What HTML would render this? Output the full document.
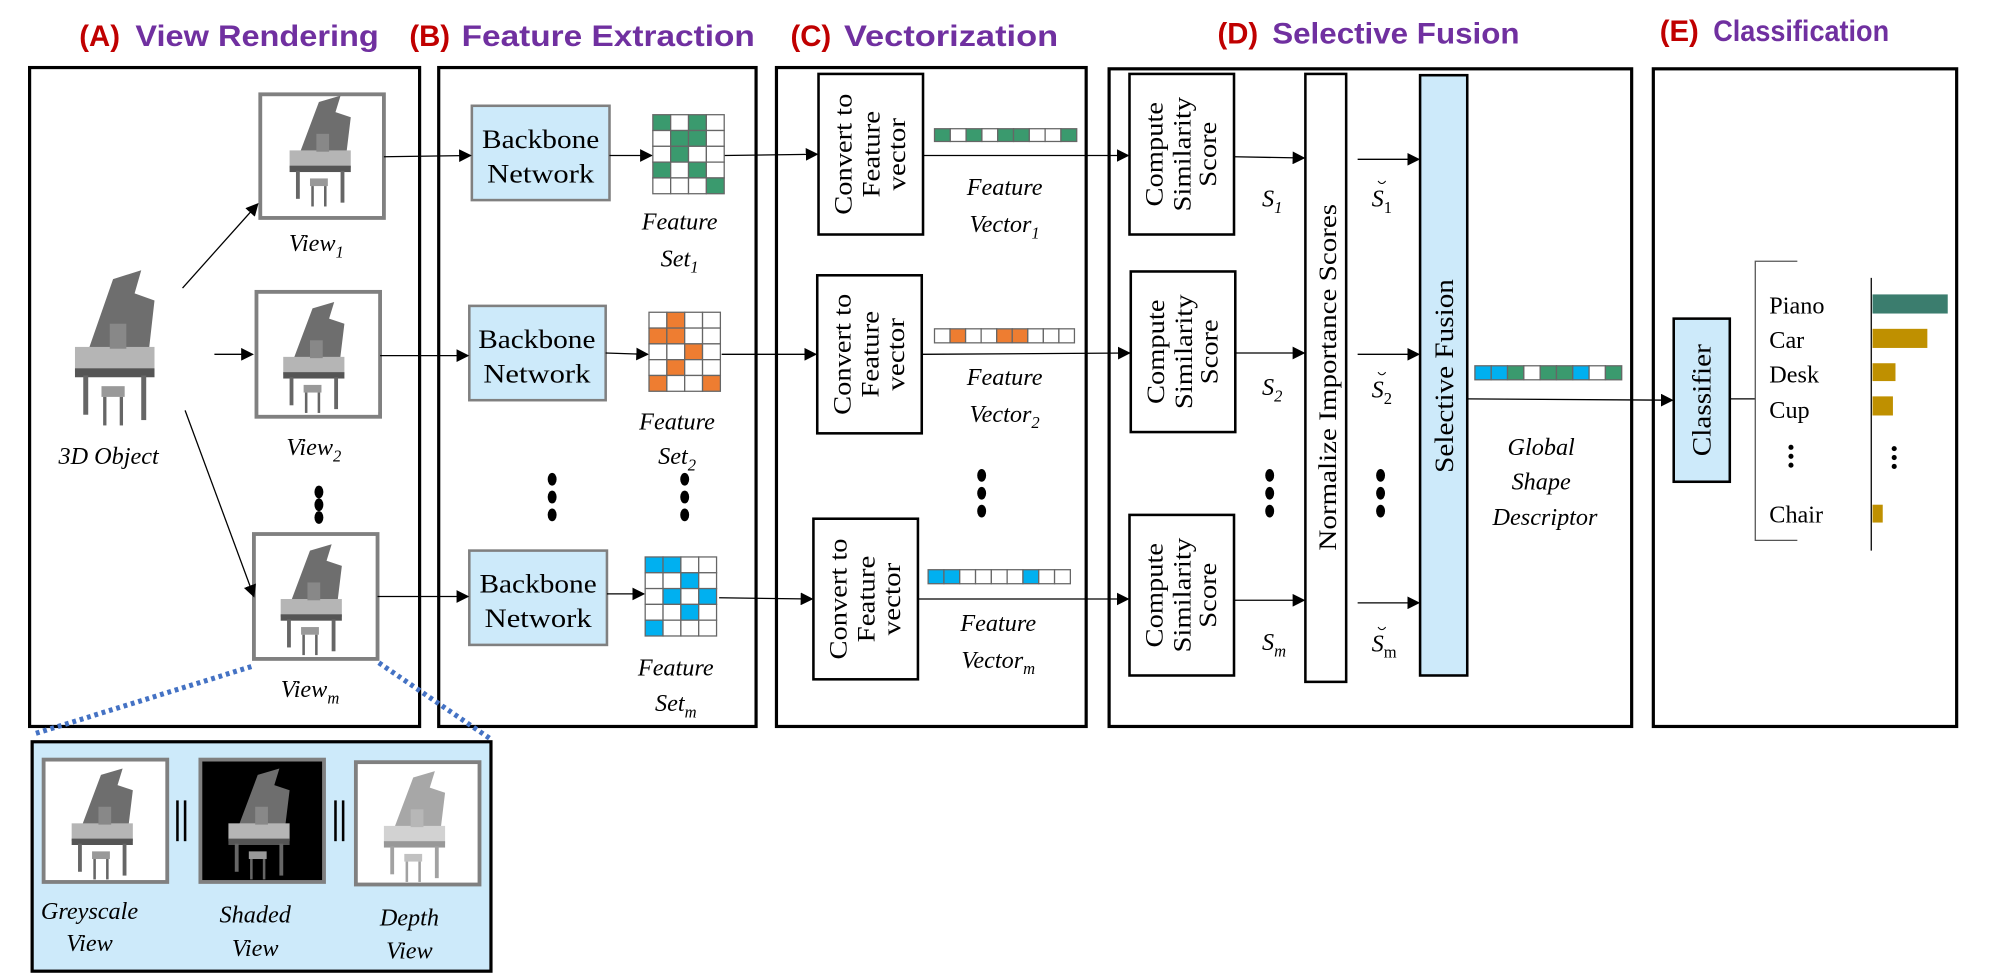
<!DOCTYPE html>
<html><head><meta charset="utf-8"><style>
html,body{margin:0;padding:0;background:#fff;}
svg{display:block;}
.t{font-family:"Liberation Serif",serif;}
.i{font-family:"Liberation Serif",serif;font-style:italic;}
.h{font-family:"Liberation Sans Narrow","Liberation Sans",sans-serif;font-weight:bold;}
</style></head><body>
<svg width="1999" height="975" viewBox="0 0 1568 765" xmlns="http://www.w3.org/2000/svg">
<defs>
<marker id="a" markerWidth="10" markerHeight="10" refX="9" refY="5" orient="auto" markerUnits="userSpaceOnUse"><path d="M0,0 L10,5 L0,10 z" fill="#000"/></marker>
<g id="piano">
<path d="M30,50 L45,10 L62,5 L58,18 L70,22 L66,55 z" fill="#6e6e6e"/>
<rect x="22" y="48" width="48" height="14" fill="#b5b5b5"/>
<rect x="22" y="60" width="48" height="5" fill="#555"/>
<rect x="43" y="35" width="10" height="14" fill="#888"/>
<rect x="27" y="64" width="3" height="22" fill="#666"/>
<rect x="62" y="64" width="3" height="25" fill="#666"/>
<rect x="38" y="70" width="14" height="6" fill="#999"/>
<rect x="39" y="76" width="2" height="16" fill="#666"/>
<rect x="49" y="76" width="2" height="16" fill="#666"/>
</g>
</defs>

<!-- Titles -->
<text x="62" y="36" class="h" font-size="23" fill="#c00000">(A)</text>
<text x="106" y="36" class="h" font-size="23" fill="#7030a0" textLength="191" lengthAdjust="spacingAndGlyphs">View Rendering</text>
<text x="321" y="36" class="h" font-size="23" fill="#c00000">(B)</text>
<text x="362" y="36" class="h" font-size="23" fill="#7030a0" textLength="230" lengthAdjust="spacingAndGlyphs">Feature Extraction</text>
<text x="620" y="36" class="h" font-size="23" fill="#c00000">(C)</text>
<text x="662" y="36" class="h" font-size="23" fill="#7030a0" textLength="168" lengthAdjust="spacingAndGlyphs">Vectorization</text>
<text x="955" y="34" class="h" font-size="23" fill="#c00000">(D)</text>
<text x="998" y="34" class="h" font-size="23" fill="#7030a0" textLength="194" lengthAdjust="spacingAndGlyphs">Selective Fusion</text>
<text x="1302" y="32" class="h" font-size="23" fill="#c00000">(E)</text>
<text x="1344" y="32" class="h" font-size="23" fill="#7030a0" textLength="138" lengthAdjust="spacingAndGlyphs">Classification</text>

<!-- Panels -->
<g fill="none" stroke="#000" stroke-width="2.5">
<rect x="23" y="53" width="306" height="517"/>
<rect x="344" y="53" width="249" height="517"/>
<rect x="609" y="53" width="243" height="517"/>
<rect x="870" y="54" width="410" height="516"/>
<rect x="1297" y="54" width="238" height="516"/>
</g>

<!-- Panel A -->
<g transform="translate(30,205) scale(1.3,1.4)"><use href="#piano"/></g>
<text x="85" y="364" class="i" font-size="19" text-anchor="middle">3D Object</text>
<rect x="204" y="74" width="97" height="97" fill="#fff" stroke="#808080" stroke-width="3"/>
<g transform="translate(205,70)"><use href="#piano"/></g>
<rect x="201" y="229" width="97" height="98" fill="#fff" stroke="#808080" stroke-width="3"/>
<g transform="translate(200,232)"><use href="#piano"/></g>
<rect x="199" y="419" width="97" height="98" fill="#fff" stroke="#808080" stroke-width="3"/>
<g transform="translate(198,422)"><use href="#piano"/></g>
<text x="248" y="197" class="i" font-size="19" text-anchor="middle">View<tspan font-size="13" dy="5">1</tspan></text>
<text x="246" y="357" class="i" font-size="19" text-anchor="middle">View<tspan font-size="13" dy="5">2</tspan></text>
<text x="243" y="547" class="i" font-size="19" text-anchor="middle">View<tspan font-size="13" dy="5">m</tspan></text>
<g fill="#000"><ellipse cx="250" cy="386" rx="3.5" ry="5"/><ellipse cx="250" cy="396" rx="3.5" ry="5"/><ellipse cx="250" cy="406" rx="3.5" ry="5"/></g>
<g stroke="#000" stroke-width="1" marker-end="url(#a)">
<line x1="143" y1="226" x2="202" y2="160"/>
<line x1="168" y1="278" x2="198" y2="278"/>
<line x1="145" y1="322" x2="199" y2="468"/>
</g>

<!-- Zoom panel -->
<g stroke="#4472c4" stroke-width="4" stroke-dasharray="3,3" fill="none">
<line x1="197" y1="523" x2="26" y2="576"/>
<line x1="297" y1="520" x2="385" y2="580"/>
</g>
<rect x="25" y="582" width="360" height="180" fill="#cdeafa" stroke="#000" stroke-width="2.5"/>
<rect x="34" y="596" width="97" height="96" fill="#fff" stroke="#808080" stroke-width="3"/>
<g transform="translate(34,598)"><use href="#piano"/></g>
<rect x="157" y="596" width="97" height="96" fill="#000" stroke="#808080" stroke-width="3"/>
<g transform="translate(157,598)"><use href="#piano"/></g>
<rect x="279" y="598" width="97" height="96" fill="#fff" stroke="#808080" stroke-width="3"/>
<g transform="translate(279,600)" opacity="0.6"><use href="#piano"/></g>
<g stroke="#000" stroke-width="2"><line x1="139" y1="628" x2="139" y2="660"/><line x1="145" y1="628" x2="145" y2="660"/><line x1="263" y1="628" x2="263" y2="660"/><line x1="269" y1="628" x2="269" y2="660"/></g>
<g class="i" font-size="19" text-anchor="middle">
<text x="70" y="721">Greyscale</text><text x="70" y="746">View</text>
<text x="200" y="724">Shaded</text><text x="200" y="750">View</text>
<text x="321" y="726">Depth</text><text x="321" y="752">View</text>
</g>

<!-- Panel B -->
<g fill="#cdeafa" stroke="#808080" stroke-width="2">
<rect x="370" y="83" width="108" height="74"/>
<rect x="368" y="240" width="107" height="74"/>
<rect x="368" y="432" width="108" height="74"/>
</g>
<g class="t" font-size="21" text-anchor="middle" lengthAdjust="spacingAndGlyphs">
<text x="424" y="116" textLength="92" lengthAdjust="spacingAndGlyphs">Backbone</text><text x="424" y="143" textLength="84" lengthAdjust="spacingAndGlyphs">Network</text>
<text x="421" y="273" textLength="92" lengthAdjust="spacingAndGlyphs">Backbone</text><text x="421" y="300" textLength="84" lengthAdjust="spacingAndGlyphs">Network</text>
<text x="422" y="465" textLength="92" lengthAdjust="spacingAndGlyphs">Backbone</text><text x="422" y="492" textLength="84" lengthAdjust="spacingAndGlyphs">Network</text>
</g>
<g stroke="#000" stroke-width="1" marker-end="url(#a)">
<line x1="301" y1="123" x2="369" y2="122"/>
<line x1="298" y1="279" x2="367" y2="279"/>
<line x1="296" y1="468" x2="367" y2="468"/>
<line x1="478" y1="122" x2="511" y2="122"/>
<line x1="475" y1="277" x2="508" y2="278"/>
<line x1="476" y1="466" x2="505" y2="466"/>
<line x1="568" y1="122" x2="641" y2="121"/>
<line x1="566" y1="278" x2="640" y2="278"/>
<line x1="564" y1="469" x2="637" y2="470"/>
</g>
<!-- grids -->
<g stroke="#666" stroke-width="1">
<g transform="translate(512,90)">
<rect x="0" y="0" width="14" height="12.4" fill="#3a9a6e"/><rect x="14" y="0" width="14" height="12.4" fill="#fff"/><rect x="28" y="0" width="14" height="12.4" fill="#3a9a6e"/><rect x="42" y="0" width="14" height="12.4" fill="#fff"/>
<rect x="0" y="12.4" width="14" height="12.4" fill="#fff"/><rect x="14" y="12.4" width="14" height="12.4" fill="#3a9a6e"/><rect x="28" y="12.4" width="14" height="12.4" fill="#3a9a6e"/><rect x="42" y="12.4" width="14" height="12.4" fill="#fff"/>
<rect x="0" y="24.8" width="14" height="12.4" fill="#fff"/><rect x="14" y="24.8" width="14" height="12.4" fill="#3a9a6e"/><rect x="28" y="24.8" width="14" height="12.4" fill="#fff"/><rect x="42" y="24.8" width="14" height="12.4" fill="#fff"/>
<rect x="0" y="37.2" width="14" height="12.4" fill="#3a9a6e"/><rect x="14" y="37.2" width="14" height="12.4" fill="#fff"/><rect x="28" y="37.2" width="14" height="12.4" fill="#3a9a6e"/><rect x="42" y="37.2" width="14" height="12.4" fill="#fff"/>
<rect x="0" y="49.6" width="14" height="12.4" fill="#fff"/><rect x="14" y="49.6" width="14" height="12.4" fill="#fff"/><rect x="28" y="49.6" width="14" height="12.4" fill="#fff"/><rect x="42" y="49.6" width="14" height="12.4" fill="#3a9a6e"/>
</g>
<g transform="translate(509,245)">
<rect x="0" y="0" width="14" height="12.4" fill="#fff"/><rect x="14" y="0" width="14" height="12.4" fill="#ee7d31"/><rect x="28" y="0" width="14" height="12.4" fill="#fff"/><rect x="42" y="0" width="14" height="12.4" fill="#fff"/>
<rect x="0" y="12.4" width="14" height="12.4" fill="#ee7d31"/><rect x="14" y="12.4" width="14" height="12.4" fill="#ee7d31"/><rect x="28" y="12.4" width="14" height="12.4" fill="#fff"/><rect x="42" y="12.4" width="14" height="12.4" fill="#fff"/>
<rect x="0" y="24.8" width="14" height="12.4" fill="#fff"/><rect x="14" y="24.8" width="14" height="12.4" fill="#fff"/><rect x="28" y="24.8" width="14" height="12.4" fill="#ee7d31"/><rect x="42" y="24.8" width="14" height="12.4" fill="#fff"/>
<rect x="0" y="37.2" width="14" height="12.4" fill="#fff"/><rect x="14" y="37.2" width="14" height="12.4" fill="#ee7d31"/><rect x="28" y="37.2" width="14" height="12.4" fill="#fff"/><rect x="42" y="37.2" width="14" height="12.4" fill="#fff"/>
<rect x="0" y="49.6" width="14" height="12.4" fill="#ee7d31"/><rect x="14" y="49.6" width="14" height="12.4" fill="#fff"/><rect x="28" y="49.6" width="14" height="12.4" fill="#fff"/><rect x="42" y="49.6" width="14" height="12.4" fill="#ee7d31"/>
</g>
<g transform="translate(506,437)">
<rect x="0" y="0" width="14" height="12.4" fill="#00b0f0"/><rect x="14" y="0" width="14" height="12.4" fill="#00b0f0"/><rect x="28" y="0" width="14" height="12.4" fill="#fff"/><rect x="42" y="0" width="14" height="12.4" fill="#fff"/>
<rect x="0" y="12.4" width="14" height="12.4" fill="#fff"/><rect x="14" y="12.4" width="14" height="12.4" fill="#fff"/><rect x="28" y="12.4" width="14" height="12.4" fill="#00b0f0"/><rect x="42" y="12.4" width="14" height="12.4" fill="#fff"/>
<rect x="0" y="24.8" width="14" height="12.4" fill="#fff"/><rect x="14" y="24.8" width="14" height="12.4" fill="#00b0f0"/><rect x="28" y="24.8" width="14" height="12.4" fill="#fff"/><rect x="42" y="24.8" width="14" height="12.4" fill="#00b0f0"/>
<rect x="0" y="37.2" width="14" height="12.4" fill="#fff"/><rect x="14" y="37.2" width="14" height="12.4" fill="#fff"/><rect x="28" y="37.2" width="14" height="12.4" fill="#00b0f0"/><rect x="42" y="37.2" width="14" height="12.4" fill="#fff"/>
<rect x="0" y="49.6" width="14" height="12.4" fill="#00b0f0"/><rect x="14" y="49.6" width="14" height="12.4" fill="#fff"/><rect x="28" y="49.6" width="14" height="12.4" fill="#fff"/><rect x="42" y="49.6" width="14" height="12.4" fill="#fff"/>
</g>
</g>
<g class="i" font-size="19" text-anchor="middle">
<text x="533" y="180">Feature</text><text x="533" y="209">Set<tspan font-size="13" dy="5">1</tspan></text>
<text x="531" y="337">Feature</text><text x="531" y="364">Set<tspan font-size="13" dy="5">2</tspan></text>
<text x="530" y="530">Feature</text><text x="530" y="558">Set<tspan font-size="13" dy="5">m</tspan></text>
</g>
<g fill="#000">
<ellipse cx="433" cy="376" rx="3.5" ry="5"/><ellipse cx="433" cy="390" rx="3.5" ry="5"/><ellipse cx="433" cy="404" rx="3.5" ry="5"/>
<ellipse cx="537" cy="376" rx="3.5" ry="5"/><ellipse cx="537" cy="390" rx="3.5" ry="5"/><ellipse cx="537" cy="404" rx="3.5" ry="5"/>
<ellipse cx="770" cy="373" rx="3.5" ry="5"/><ellipse cx="770" cy="387" rx="3.5" ry="5"/><ellipse cx="770" cy="401" rx="3.5" ry="5"/>
<ellipse cx="996" cy="373" rx="3.5" ry="5"/><ellipse cx="996" cy="387" rx="3.5" ry="5"/><ellipse cx="996" cy="401" rx="3.5" ry="5"/>
<ellipse cx="1083" cy="373" rx="3.5" ry="5"/><ellipse cx="1083" cy="387" rx="3.5" ry="5"/><ellipse cx="1083" cy="401" rx="3.5" ry="5"/>
</g>

<!-- Panel C -->
<g fill="#fff" stroke="#000" stroke-width="2">
<rect x="642" y="58" width="82" height="126"/>
<rect x="641" y="216" width="82" height="124"/>
<rect x="638" y="407" width="82" height="126"/>
</g>
<g class="t" font-size="20" text-anchor="middle">
<g transform="translate(683,121) rotate(-90)"><text x="0" y="-15" textLength="95" lengthAdjust="spacingAndGlyphs">Convert to</text><text x="0" y="7" textLength="68" lengthAdjust="spacingAndGlyphs">Feature</text><text x="0" y="27" textLength="57" lengthAdjust="spacingAndGlyphs">vector</text></g>
<g transform="translate(682,278) rotate(-90)"><text x="0" y="-15" textLength="95" lengthAdjust="spacingAndGlyphs">Convert to</text><text x="0" y="7" textLength="68" lengthAdjust="spacingAndGlyphs">Feature</text><text x="0" y="27" textLength="57" lengthAdjust="spacingAndGlyphs">vector</text></g>
<g transform="translate(679,470) rotate(-90)"><text x="0" y="-15" textLength="95" lengthAdjust="spacingAndGlyphs">Convert to</text><text x="0" y="7" textLength="68" lengthAdjust="spacingAndGlyphs">Feature</text><text x="0" y="27" textLength="57" lengthAdjust="spacingAndGlyphs">vector</text></g>
</g>
<g stroke="#666" stroke-width="1">
<g transform="translate(733,101)">
<rect x="0" width="12.4" height="10" fill="#3a9a6e"/><rect x="12.4" width="12.4" height="10" fill="#fff"/><rect x="24.8" width="12.4" height="10" fill="#3a9a6e"/><rect x="37.2" width="12.4" height="10" fill="#fff"/><rect x="49.6" width="12.4" height="10" fill="#3a9a6e"/><rect x="62" width="12.4" height="10" fill="#3a9a6e"/><rect x="74.4" width="12.4" height="10" fill="#fff"/><rect x="86.8" width="12.4" height="10" fill="#fff"/><rect x="99.2" width="12.4" height="10" fill="#3a9a6e"/>
</g>
<g transform="translate(733,258)">
<rect x="0" width="12.2" height="11" fill="#fff"/><rect x="12.2" width="12.2" height="11" fill="#ee7d31"/><rect x="24.4" width="12.2" height="11" fill="#fff"/><rect x="36.6" width="12.2" height="11" fill="#fff"/><rect x="48.8" width="12.2" height="11" fill="#ee7d31"/><rect x="61" width="12.2" height="11" fill="#ee7d31"/><rect x="73.2" width="12.2" height="11" fill="#fff"/><rect x="85.4" width="12.2" height="11" fill="#fff"/><rect x="97.6" width="12.2" height="11" fill="#fff"/>
</g>
<g transform="translate(728,447)">
<rect x="0" width="12.4" height="11" fill="#00b0f0"/><rect x="12.4" width="12.4" height="11" fill="#00b0f0"/><rect x="24.8" width="12.4" height="11" fill="#fff"/><rect x="37.2" width="12.4" height="11" fill="#fff"/><rect x="49.6" width="12.4" height="11" fill="#fff"/><rect x="62" width="12.4" height="11" fill="#fff"/><rect x="74.4" width="12.4" height="11" fill="#00b0f0"/><rect x="86.8" width="12.4" height="11" fill="#fff"/><rect x="99.2" width="12.4" height="11" fill="#fff"/>
</g>
<g transform="translate(1157,287)">
<rect x="0" width="12.8" height="11" fill="#00b0f0"/><rect x="12.8" width="12.8" height="11" fill="#00b0f0"/><rect x="25.6" width="12.8" height="11" fill="#3a9a6e"/><rect x="38.4" width="12.8" height="11" fill="#fff"/><rect x="51.2" width="12.8" height="11" fill="#3a9a6e"/><rect x="64" width="12.8" height="11" fill="#3a9a6e"/><rect x="76.8" width="12.8" height="11" fill="#00b0f0"/><rect x="89.6" width="12.8" height="11" fill="#fff"/><rect x="102.4" width="12.8" height="11" fill="#3a9a6e"/>
</g>
</g>
<g class="i" font-size="19" text-anchor="middle">
<text x="788" y="153">Feature</text><text x="788" y="182">Vector<tspan font-size="13" dy="5">1</tspan></text>
<text x="788" y="302">Feature</text><text x="788" y="331">Vector<tspan font-size="13" dy="5">2</tspan></text>
<text x="783" y="495">Feature</text><text x="783" y="524">Vector<tspan font-size="13" dy="5">m</tspan></text>
</g>
<g stroke="#000" stroke-width="1" marker-end="url(#a)">
<line x1="724" y1="122" x2="885" y2="122"/>
<line x1="723" y1="278" x2="886" y2="277"/>
<line x1="720" y1="470" x2="885" y2="470"/>
</g>

<!-- Panel D -->
<g fill="#fff" stroke="#000" stroke-width="2">
<rect x="886" y="58" width="82" height="126"/>
<rect x="887" y="213" width="82" height="126"/>
<rect x="886" y="404" width="82" height="126"/>
<rect x="1024" y="58" width="32" height="477"/>
</g>
<rect x="1114" y="59" width="37" height="471" fill="#cdeafa" stroke="#000" stroke-width="2"/>
<g class="t" font-size="20" text-anchor="middle">
<g transform="translate(927,121) rotate(-90)"><text x="0" y="-15" textLength="82" lengthAdjust="spacingAndGlyphs">Compute</text><text x="0" y="7" textLength="90" lengthAdjust="spacingAndGlyphs">Similarity</text><text x="0" y="27" textLength="51" lengthAdjust="spacingAndGlyphs">Score</text></g>
<g transform="translate(928,276) rotate(-90)"><text x="0" y="-15" textLength="82" lengthAdjust="spacingAndGlyphs">Compute</text><text x="0" y="7" textLength="90" lengthAdjust="spacingAndGlyphs">Similarity</text><text x="0" y="27" textLength="51" lengthAdjust="spacingAndGlyphs">Score</text></g>
<g transform="translate(927,467) rotate(-90)"><text x="0" y="-15" textLength="82" lengthAdjust="spacingAndGlyphs">Compute</text><text x="0" y="7" textLength="90" lengthAdjust="spacingAndGlyphs">Similarity</text><text x="0" y="27" textLength="51" lengthAdjust="spacingAndGlyphs">Score</text></g>
<text transform="translate(1048,296) rotate(-90)" font-size="20" textLength="272" lengthAdjust="spacingAndGlyphs">Normalize Importance Scores</text>
<text transform="translate(1140,295) rotate(-90)" font-size="21" textLength="152" lengthAdjust="spacingAndGlyphs">Selective Fusion</text>
</g>
<g stroke="#000" stroke-width="1" marker-end="url(#a)">
<line x1="968" y1="123" x2="1023" y2="124"/>
<line x1="969" y1="277" x2="1023" y2="277"/>
<line x1="968" y1="471" x2="1023" y2="471"/>
<line x1="1065" y1="125" x2="1113" y2="125"/>
<line x1="1065" y1="278" x2="1113" y2="278"/>
<line x1="1065" y1="473" x2="1113" y2="473"/>
<line x1="1151" y1="313" x2="1312" y2="314"/>
</g>
<g class="i" font-size="19">
<text x="990" y="162">S<tspan font-size="13" dy="5">1</tspan></text>
<text x="990" y="310">S<tspan font-size="13" dy="5">2</tspan></text>
<text x="990" y="510">S<tspan font-size="13" dy="5">m</tspan></text>
<text x="1076" y="162">S<tspan font-size="13" dy="5" font-style="normal">1</tspan></text>
<text x="1076" y="312">S<tspan font-size="13" dy="5" font-style="normal">2</tspan></text>
<text x="1076" y="511">S<tspan font-size="13" dy="5" font-style="normal">m</tspan></text>
</g>
<g fill="none" stroke="#000" stroke-width="0.8">
<path d="M1081,142 q3,4 6,0"/><path d="M1081,292 q3,4 6,0"/><path d="M1081,492 q3,4 6,0"/>
</g>
<g class="i" font-size="19" text-anchor="middle">
<text x="1209" y="357">Global</text><text x="1209" y="384">Shape</text><text x="1212" y="412">Descriptor</text>
</g>

<!-- Panel E -->
<rect x="1313" y="250" width="44" height="128" fill="#cdeafa" stroke="#000" stroke-width="2"/>
<text transform="translate(1342,314) rotate(-90)" class="t" font-size="21" text-anchor="middle" textLength="88" lengthAdjust="spacingAndGlyphs">Classifier</text>
<g stroke="#000" stroke-width="1" fill="none">
<line x1="1357" y1="313" x2="1377" y2="313"/>
<polyline points="1410,205 1377,205 1377,424 1410,424" stroke="#555"/>
<line x1="1468" y1="218" x2="1468" y2="432"/>
</g>
<g class="t" font-size="19">
<text x="1388" y="246">Piano</text><text x="1388" y="273">Car</text><text x="1388" y="300">Desk</text><text x="1388" y="328">Cup</text><text x="1388" y="410">Chair</text>
</g>
<g fill="#000"><circle cx="1405" cy="351" r="2"/><circle cx="1405" cy="358" r="2"/><circle cx="1405" cy="365" r="2"/>
<circle cx="1486" cy="352" r="2"/><circle cx="1486" cy="359" r="2"/><circle cx="1486" cy="366" r="2"/></g>
<rect x="1469" y="231" width="59" height="15" fill="#3b7d6e"/>
<rect x="1469" y="258" width="43" height="15" fill="#bf9000"/>
<rect x="1469" y="285" width="18" height="14" fill="#bf9000"/>
<rect x="1469" y="311" width="16" height="15" fill="#bf9000"/>
<rect x="1469" y="396" width="8" height="14" fill="#bf9000"/>
</svg>
</body></html>
